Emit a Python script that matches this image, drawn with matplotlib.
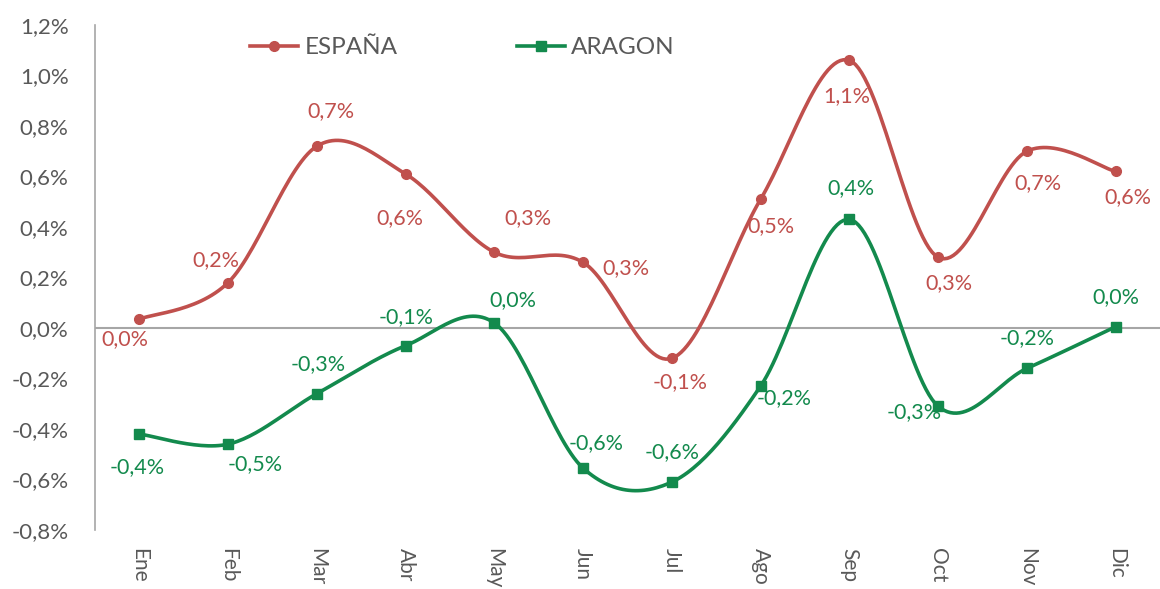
import numpy as np
import matplotlib.pyplot as plt
from matplotlib.ticker import FuncFormatter

# datos mensuales (variacion %)
meses = ["Ene", "Feb", "Mar", "Abr", "May", "Jun", "Jul", "Ago", "Sep", "Oct", "Nov", "Dic"]
espana = [0.035, 0.18, 0.72, 0.61, 0.30, 0.26, -0.12, 0.51, 1.06, 0.28, 0.70, 0.62]
aragon = [-0.42, -0.46, -0.26, -0.07, 0.02, -0.555, -0.61, -0.23, 0.43, -0.31, -0.16, 0.005]

# desplazamiento de etiquetas (pixeles)
off_esp = [(-14, -20), (-12, 22), (14, 35), (-6, -44), (34, 34), (43, -6),
           (8, -24), (10, -27), (-3, -36), (11, -26), (11, -32), (12, -26)]
off_ara = [(-2, -33), (27, -20), (1, 30), (0, 29), (19, 23), (13, 25),
           (0, 30), (23, -12), (2, 31), (-24, -6), (0, 30), (0, 30)]

ROJO = "#C0504D"
VERDE = "#138A4D"
GRIS = "#595959"

plt.rcParams['font.family'] = ['Lato', 'DejaVu Sans']


def suavizar(x, y, n=30):
    # curva tipo Excel: bezier con puntos de control catmull-rom
    x = np.asarray(x, float)
    y = np.asarray(y, float)
    P = np.column_stack([x, y])
    P = np.vstack([P[0], P, P[-1]])
    out = []
    t = np.linspace(0, 1, n)[:, None]
    for i in range(1, len(P) - 2):
        p0, p1, p2, p3 = P[i - 1], P[i], P[i + 1], P[i + 2]
        c1 = p1 + (p2 - p0) / 6
        c2 = p2 - (p3 - p1) / 6
        seg = (1 - t) ** 3 * p1 + 3 * (1 - t) ** 2 * t * c1 + 3 * (1 - t) * t ** 2 * c2 + t ** 3 * p2
        out.append(seg if i == 1 else seg[1:])
    out = np.vstack(out)
    return out[:, 0], out[:, 1]


fig = plt.figure(figsize=(11.6, 5.89), dpi=100)
ax = fig.add_axes([95 / 1160, 59 / 589, 1065 / 1160, 505 / 589])

x = np.arange(len(meses))
ax.axhline(0, color="#A6A6A6", lw=1.5, zorder=1)

for vals, col, mk, ms, lab, offs in [(espana, ROJO, "o", 7, "ESPAÑA", off_esp),
                                     (aragon, VERDE, "s", 7.5, "ARAGON", off_ara)]:
    sx, sy = suavizar(x, vals)
    ax.plot(sx, sy, color=col, lw=2.6, zorder=3)
    ax.plot(x, vals, linestyle="none", marker=mk, ms=ms, color=col, zorder=4)
    ax.plot([], [], color=col, lw=2.6, marker=mk, ms=ms, label=lab)
    for xi, v, (dx, dy) in zip(x, vals, offs):
        ax.annotate(f"{v:.1f}%".replace(".", ","), (xi, v), xytext=(dx * 0.72, dy * 0.72),
                    textcoords="offset points", ha="center", va="center",
                    color=col, fontsize=15.5)

ax.set_xlim(-0.5, 11.5)
ax.set_ylim(-0.8, 1.2)
ax.set_yticks(np.arange(-0.8, 1.21, 0.2))
ax.yaxis.set_major_formatter(FuncFormatter(lambda v, p: f"{v:.1f}%".replace(".", ",").replace("-0,0", "0,0")))
ax.set_xticks(x)
ax.set_xticklabels(meses, rotation=-90, va="top", ha="center")
ax.tick_params(axis="y", length=0, pad=19, labelsize=16, labelcolor=GRIS)
ax.tick_params(axis="x", length=0, pad=13, labelsize=15, labelcolor=GRIS)

for s in ["top", "right", "bottom"]:
    ax.spines[s].set_visible(False)
ax.spines["left"].set_color("#A6A6A6")
ax.spines["left"].set_linewidth(1.2)

leg = ax.legend(loc="center", bbox_to_anchor=(0.345, 0.955), ncol=2, frameon=False,
                fontsize=17.5, handlelength=2.0, columnspacing=4.9, handletextpad=0.25)
for t in leg.get_texts():
    t.set_color(GRIS)

plt.savefig("out.png", dpi=100)
